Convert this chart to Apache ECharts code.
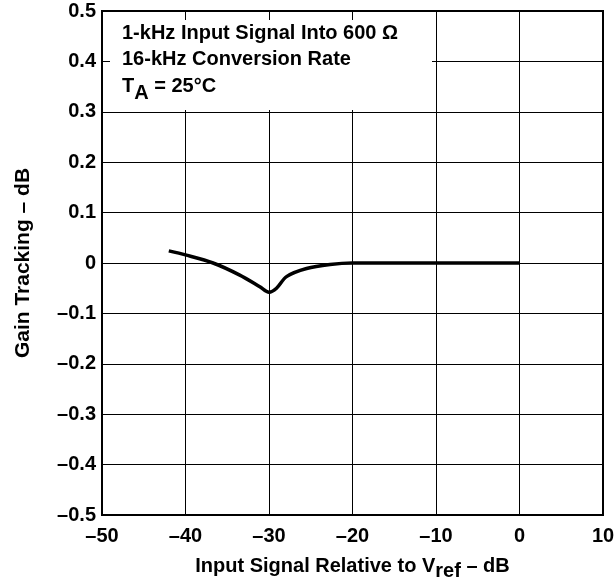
<!DOCTYPE html>
<html><head><meta charset="utf-8">
<script src="https://cdn.jsdelivr.net/npm/echarts@6/dist/echarts.min.js"></script>
<style>html,body{margin:0;padding:0;background:#fff}#c{width:614px;height:582px}</style>
</head><body><div id="c"></div>
<script>
const xValues = [-42, -40, -36.7, -33.5, -31.1, -30, -29.1, -27.9, -25.5, -22.7, -20, -10, 0];
const yValues = [0.024, 0.016, 0, -0.024, -0.047, -0.058, -0.05, -0.027, -0.011, -0.003, 0, 0, 0];
const xTicks = [-50, -40, -30, -20, -10, 0, 10];
const yTicks = [-0.5, -0.4, -0.3, -0.2, -0.1, 0, 0.1, 0.2, 0.3, 0.4, 0.5];
const annotationLines = ['1-kHz Input Signal Into 600 Ω', '16-kHz Conversion Rate'];

const FONT = '"Liberation Sans", Arial, Helvetica, sans-serif';
const FS = 20;
const dash = v => String(Math.round(v * 10) / 10).replace('-', '\u2013');
const chart = echarts.init(document.getElementById('c'));
chart.setOption({
  animation: false,
  grid: { left: 102, right: 11, top: 11, bottom: 67, outerBoundsMode: 'none', containLabel: false,
          show: true, borderColor: '#000', borderWidth: 2, backgroundColor: 'transparent' },
  xAxis: {
    type: 'value', min: xTicks[0], max: xTicks[xTicks.length - 1], interval: 10,
    axisLine: { show: false }, axisTick: { show: false },
    splitLine: { show: true, lineStyle: { color: '#000', width: 1 } },
    axisLabel: { formatter: v => dash(v), color: '#000', fontFamily: FONT, fontWeight: 'bold', fontSize: FS, margin: 11 },
    name: '{a|Input Signal Relative to V}{s|ref}{a| \u2013 dB}', nameLocation: 'middle', nameGap: 36,
    nameTextStyle: { rich: {
      a: { fontFamily: FONT, fontWeight: 'bold', fontSize: FS, color: '#000' },
      s: { fontFamily: FONT, fontWeight: 'bold', fontSize: FS, color: '#000', padding: [10, 0, 0, 0] }
    } }
  },
  yAxis: {
    type: 'value', min: yTicks[0], max: yTicks[yTicks.length - 1], interval: 0.1,
    axisLine: { show: false }, axisTick: { show: false },
    splitLine: { show: true, lineStyle: { color: '#000', width: 1 } },
    axisLabel: { formatter: v => dash(v), color: '#000', fontFamily: FONT, fontWeight: 'bold', fontSize: FS, margin: 6 },
    name: 'Gain Tracking \u2013 dB', nameLocation: 'middle', nameGap: 68, nameRotate: 90,
    nameTextStyle: { fontFamily: FONT, fontWeight: 'bold', fontSize: 21, color: '#000' }
  },
  graphic: [
    { type: 'rect', z: 1, shape: { x: 110, y: 20, width: 322, height: 90 }, style: { fill: '#fff' } },
    { type: 'text', z: 5, left: 122, top: 23, style: { text: annotationLines[0], font: 'bold 20px ' + FONT, fill: '#000' } },
    { type: 'text', z: 5, left: 122, top: 49, style: { text: annotationLines[1], font: 'bold 20px ' + FONT, fill: '#000' } },
    { type: 'text', z: 5, left: 122, top: 76, style: {
      text: '{a|T}{s|A}{a| = 25\u00b0C}',
      rich: {
        a: { font: 'bold 20px ' + FONT, fill: '#000', verticalAlign: 'top' },
        s: { font: 'bold 20px ' + FONT, fill: '#000', padding: [7, 0, 0, 0], verticalAlign: 'top' }
      } } }
  ],
  series: [{
    type: 'line', data: xValues.map((x, i) => [x, yValues[i]]), smooth: 0.3, showSymbol: false,
    lineStyle: { color: '#000', width: 3.5 }, z: 3
  }]
});
</script></body></html>
